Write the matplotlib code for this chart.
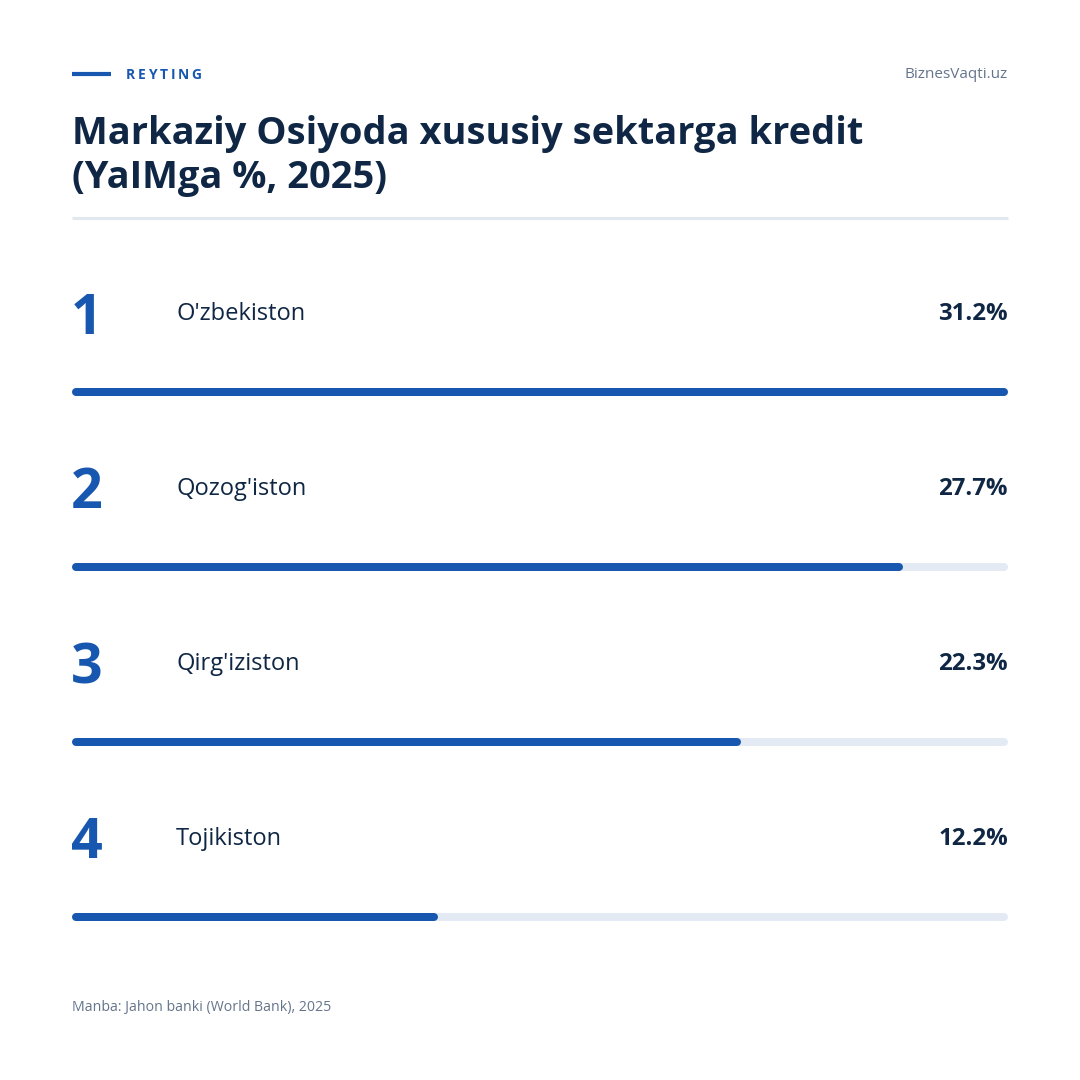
import matplotlib
matplotlib.use("Agg")
import matplotlib.pyplot as plt

plt.rcParams['font.family'] = ['Open Sans', 'DejaVu Sans']

# data
countries = ["O'zbekiston", "Qozog'iston", "Qirg'iziston", "Tojikiston"]
values = [31.2, 27.7, 22.3, 12.2]
ranks = [1, 2, 3, 4]

title = "Markaziy Osiyoda xususiy sektarga kredit\n(YaIMga %, 2025)"
kicker = "REYTING"
brand = "BiznesVaqti.uz"
source = "Manba: Jahon banki (World Bank), 2025"

BLUE = '#1857b0'
NAVY = '#0f2744'
GREY = '#64748b'
TRACK = '#e3eaf4'

W = 1080
fig = plt.figure(figsize=(10.8, 10.8), dpi=100)
fig.patch.set_facecolor('white')

# base axes in pixel coordinates for text/layout
base = fig.add_axes([0, 0, 1, 1])
base.set_xlim(0, W)
base.set_ylim(W, 0)
base.axis('off')

# header
base.plot([72, 111], [74, 74], color=BLUE, lw=3, solid_capstyle='butt')
fig.canvas.draw()
r = fig.canvas.get_renderer()
x = 126
for ch in kicker:
    t = base.text(x, 75, ch, fontsize=10, fontweight='bold', color=BLUE,
                  va='center', ha='left')
    bb = t.get_window_extent(renderer=r)
    x += bb.width + 2.7
base.text(1008, 75, brand, fontsize=11, color=GREY, va='center', ha='right')

base.text(72, 188, title, fontsize=27.4, fontweight='bold', color=NAVY,
          va='baseline', ha='left', linespacing=1.22)
base.plot([72, 1008], [218, 218], color='#e2e8f0', lw=2.2, solid_capstyle='butt')

# rows
row_y0, row_step = 312, 175
for i, (rk, name, v) in enumerate(zip(ranks, countries, values)):
    y = row_y0 + row_step * i
    base.text(71, y + 7, str(rk), fontsize=40, fontweight='bold', color=BLUE,
              va='center', ha='left')
    base.text(176, y + 2, name, fontsize=17, color=NAVY, va='center', ha='left')
    base.text(1008, y + 2, f"{v:.1f}%", fontsize=17.3, fontweight='bold',
              color=NAVY, va='center', ha='right')

base.text(72, 1007, source, fontsize=10.2, color=GREY, va='center', ha='left')

# bars: axes in value units; round caps reach 4px past each line end
bar_ax = fig.add_axes([72 / W, 0, 936 / W, 1])
vmax = max(values)
bar_ax.set_xlim(0, vmax)
bar_ax.set_ylim(W, 0)
bar_ax.axis('off')
bar_lw = 8 * 72 / 100
pad = vmax * 4 / 936
for i, v in enumerate(values):
    y = row_y0 + row_step * i + 80
    bar_ax.plot([pad, vmax - pad], [y, y], color=TRACK, lw=bar_lw,
                solid_capstyle='round', clip_on=False)
    bar_ax.plot([pad, v - pad], [y, y], color=BLUE, lw=bar_lw,
                solid_capstyle='round', clip_on=False)

fig.savefig('out.png', dpi=100, facecolor='white')
